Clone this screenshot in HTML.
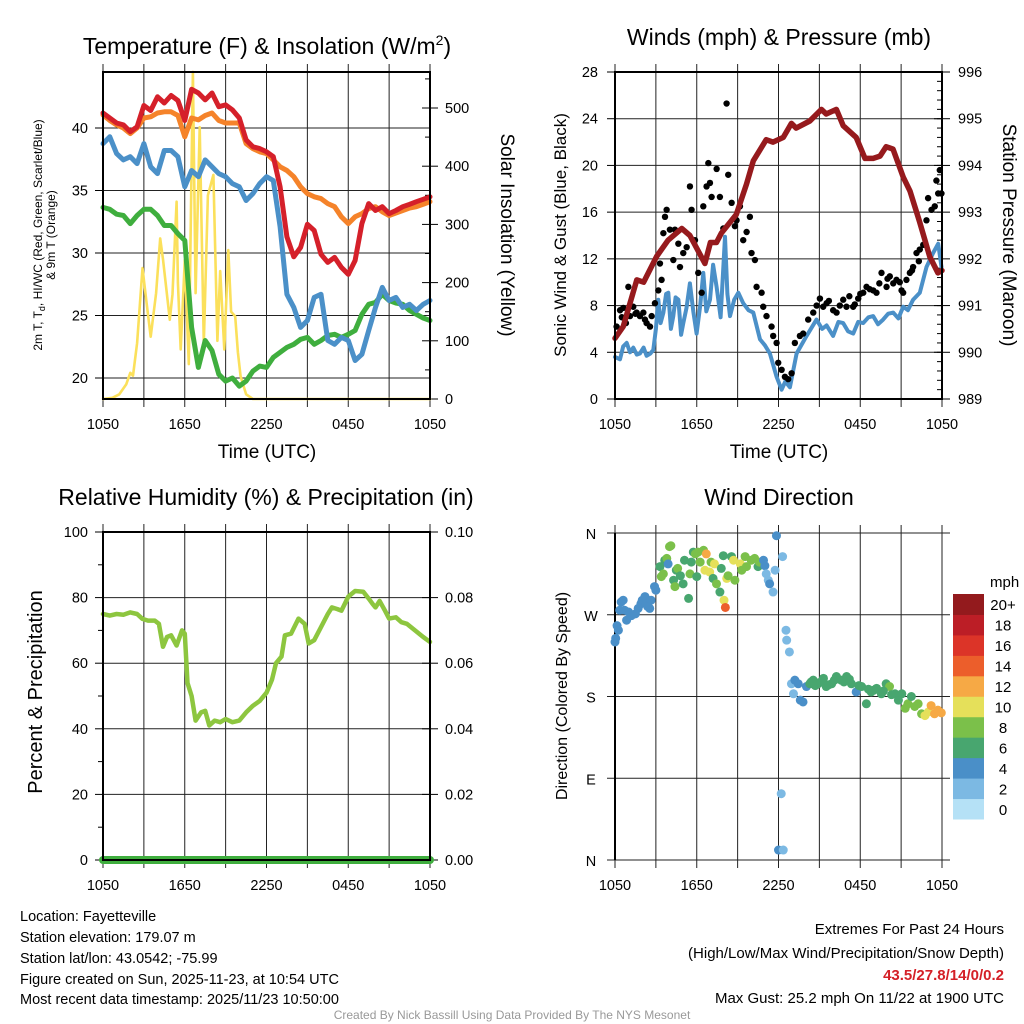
<!DOCTYPE html>
<html><head><meta charset="utf-8"><style>
body{margin:0;background:#fff}
svg{display:block;font-family:"Liberation Sans",Arial,sans-serif}
</style></head><body>
<svg id="s" width="1024" height="1024" viewBox="0 0 1024 1024" xmlns="http://www.w3.org/2000/svg">
<rect width="1024" height="1024" fill="#fff"/>
<g id="g1"></g>
<g id="g2"></g>
<g id="g3"></g>
<g id="g4"></g>
<text x="267" y="54" font-size="23" text-anchor="middle">Temperature (F) &amp; Insolation (W/m<tspan dy="-9" font-size="14">2</tspan><tspan dy="9">)</tspan></text>
<text x="779" y="45" font-size="23" text-anchor="middle">Winds (mph) &amp; Pressure (mb)</text>
<text x="266" y="505" font-size="23" text-anchor="middle">Relative Humidity (%) &amp; Precipitation (in)</text>
<text x="779" y="505" font-size="23" text-anchor="middle">Wind Direction</text>
<text x="267" y="458" font-size="19" text-anchor="middle">Time (UTC)</text>
<text x="779" y="458" font-size="19" text-anchor="middle">Time (UTC)</text>
<text transform="translate(42,235) rotate(-90)" font-size="12" text-anchor="middle">2m T, T<tspan dy="3" font-size="9">d</tspan><tspan dy="-3">, HI/WC (Red, Green, Scarlet/Blue)</tspan></text>
<text transform="translate(55,235) rotate(-90)" font-size="12" text-anchor="middle">&amp; 9m T (Orange)</text>
<text transform="translate(501,235) rotate(90)" font-size="19" text-anchor="middle">Solar Insolation (Yellow)</text>
<text transform="translate(566,235) rotate(-90)" font-size="17" text-anchor="middle">Sonic Wind &amp; Gust (Blue, Black)</text>
<text transform="translate(1003,235) rotate(90)" font-size="19" text-anchor="middle">Station Pressure (Maroon)</text>
<text transform="translate(42,692) rotate(-90)" font-size="20" text-anchor="middle">Percent &amp; Precipitation</text>
<text transform="translate(567,696) rotate(-90)" font-size="16" text-anchor="middle">Direction (Colored By Speed)</text>
<g font-size="14.5">
<text x="20" y="921">Location: Fayetteville</text>
<text x="20" y="942">Station elevation: 179.07 m</text>
<text x="20" y="963">Station lat/lon: 43.0542; -75.99</text>
<text x="20" y="984">Figure created on Sun, 2025-11-23, at 10:54 UTC</text>
<text x="20" y="1004">Most recent data timestamp: 2025/11/23 10:50:00</text>
</g>
<g font-size="15" text-anchor="end">
<text x="1004" y="934">Extremes For Past 24 Hours</text>
<text x="1004" y="958">(High/Low/Max Wind/Precipitation/Snow Depth)</text>
<text x="1004" y="980" fill="#d42027" font-weight="bold">43.5/27.8/14/0/0.2</text>
<text x="1004" y="1003">Max Gust: 25.2 mph On 11/22 at 1900 UTC</text>
</g>
<text x="512" y="1019" font-size="12" fill="#999" text-anchor="middle">Created By Nick Bassill Using Data Provided By The NYS Mesonet</text>
</svg>
<script>
// ---- Data ----
const xTickLabels=["1050","1650","2250","0450","1050"];
const tempTicks=[20,25,30,35,40];
const solarTicks=[0,100,200,300,400,500];
const windTicks=[0,4,8,12,16,20,24,28];
const presTicks=[989,990,991,992,993,994,995,996];
const rhTicks=[0,20,40,60,80,100];
const precipTicks=["0.00","0.02","0.04","0.06","0.08","0.10"];
const dirTicks=["N","W","S","E","N"];
const speedBins=["0","2","4","6","8","10","12","14","16","18","20+"];
const speedColors=["#b5e1f6","#7cb9e3","#4a8fc8","#48a66f","#7bc04a","#e5e05a","#f6a945","#ec5e2b","#dc3428","#bc1e26","#931a1d"];

const tHalf=[0,0.5,1,1.5,2,2.5,3,3.5,4,4.5,5,5.5,6,6.5,7,7.5,8,8.5,9,9.5,10,10.5,11,11.5,12,12.5,13,13.5,14,14.5,15,15.5,16,16.5,17,17.5,18,18.5,19,19.5,20,20.5,21,21.5,22,22.5,23,23.5,24];
const tempRed=[41.2,40.8,40.4,40.25,39.7,40.1,41.8,41.4,42.5,42.0,42.6,42.2,40.6,43.1,42.8,42.25,42.8,41.7,41.85,41.45,40.8,39.05,38.5,38.35,38.1,37.7,35.3,31.3,29.7,30.45,32.3,31.8,29.9,29.25,29.65,28.85,28.3,29.4,32.35,33.95,33.4,33.7,33.15,33.4,33.7,33.9,34.1,34.3,34.5];
const tempOrange=[41.05,40.6,40.25,40.0,39.55,40.0,40.8,40.9,41.2,41.3,41.3,41.0,39.3,40.8,40.65,41.0,41.2,40.6,40.4,40.4,40.4,38.75,38.35,38.1,37.95,37.45,36.9,36.6,36.1,35.3,34.75,34.5,34.35,33.95,33.7,32.9,32.35,32.9,33.15,33.55,33.7,33.3,33.0,33.2,33.4,33.6,33.7,33.9,34.1];
const tempBlue=[38.75,39.3,37.95,37.45,37.7,37.15,38.75,36.9,36.35,38.2,38.2,37.7,35.3,36.6,36.1,37.45,36.9,36.35,36.1,35.55,35.3,34.2,34.75,35.55,36.1,35.8,32.1,26.7,25.65,24.05,24.6,26.45,26.7,23.0,22.7,23.25,23.0,21.4,21.9,23.8,25.65,27.25,26.2,26.45,25.65,25.9,25.4,25.9,26.2];
const tempGreen=[33.65,33.5,33.1,33.0,32.35,33.0,33.5,33.5,33.0,32.2,32.2,31.55,31.0,24.05,20.85,23.0,22.2,20.3,19.75,20.0,19.35,19.75,20.55,20.95,20.85,21.65,22.05,22.45,22.7,23.1,23.25,22.7,23.0,23.4,23.5,23.25,23.5,23.8,25.1,25.9,26.05,26.7,26.2,26.0,25.9,25.4,25.1,24.8,24.6];
const solarT=[0,0.7,1.2,1.7,2.0,2.2,2.5,2.9,3.2,3.5,3.9,4.2,4.4,4.9,5.1,5.4,5.5,5.7,6.0,6.3,6.6,6.8,7.1,7.4,7.7,8.1,8.4,8.6,8.9,9.2,9.4,9.7,9.9,10.1,10.5,11.0,11.5,24];
const solarVal=[0,2,8,25,45,40,96,225,165,107,182,276,240,136,180,339,200,85,239,60,562,182,467,95,350,385,100,220,85,256,150,142,80,39,8,0,0,0];
const presT=[0,0.6,1.6,2.1,3.05,3.9,4.9,5.5,6.6,7.0,7.45,7.8,8.9,9.65,10.15,11.1,11.6,12.35,12.95,13.3,14.3,15.15,15.5,16.25,16.75,17.7,18.35,18.95,19.45,19.9,20.4,21.15,21.65,22.35,23.1,23.7,24];
const presVal=[990.3,990.55,991.55,991.5,992.05,992.4,992.65,992.5,991.9,992.35,992.35,992.55,992.95,993.6,994.1,994.55,994.5,994.6,994.9,994.8,994.95,995.2,995.1,995.2,994.85,994.6,994.15,994.15,994.2,994.4,994.35,993.75,993.45,992.8,992.05,991.7,991.75];
const windT=[0,0.37,0.6,0.86,1.1,1.34,1.6,1.83,2.1,2.32,2.6,2.81,3.0,3.18,3.35,3.55,3.75,3.91,4.1,4.28,4.45,4.65,4.85,5.01,5.25,5.5,5.75,5.99,6.25,6.48,6.7,6.97,7.2,7.46,7.75,8.07,8.25,8.44,8.75,9.05,9.41,9.8,10.15,10.64,11.0,11.37,11.86,12.23,12.5,12.84,13.33,14.06,14.79,15.2,15.53,16.01,16.4,16.75,17.1,17.48,17.85,18.22,18.6,18.95,19.3,19.68,20.05,20.42,20.8,21.15,21.5,21.88,22.37,22.86,23.35,23.72,23.96];
const windVal=[3.6,3.4,4.5,4.8,4.0,4.4,3.8,3.9,4.4,3.7,3.9,4.2,6.0,8.5,6.5,7.4,9.0,9.1,6.0,7.1,8.7,8.5,5.5,6.5,7.8,9.9,7.5,5.6,8.0,10.8,7.5,8.5,11.5,9.6,7.0,13.9,9.0,7.1,8.5,9.1,8.2,7.6,7.4,5.1,4.6,3.9,1.9,0.8,1.5,1.0,3.9,5.4,6.8,6.0,6.3,5.4,6.6,6.5,5.8,5.6,6.6,6.5,7.0,7.1,6.4,6.8,7.3,7.4,6.9,7.9,7.6,8.5,9.1,11.3,12.5,13.3,11.3];
const gustT=[0.12,0.37,0.61,0.98,1.1,1.34,1.59,1.83,2.08,2.32,2.57,2.69,2.93,3.18,3.3,3.42,3.55,3.67,3.79,4.03,4.28,4.4,4.65,4.77,5.01,5.26,5.5,5.62,5.87,6.11,6.36,6.48,6.72,6.85,6.97,7.09,7.46,7.7,7.95,8.19,8.31,8.56,8.8,8.92,9.17,9.41,9.66,9.9,10.02,10.27,10.39,10.76,10.88,11.12,11.49,11.61,11.86,11.98,12.23,12.47,12.71,12.96,13.2,13.57,13.81,14.18,14.55,15.04,15.28,15.53,16.01,16.26,16.75,16.99,17.48,17.85,18.22,18.46,18.95,19.19,19.56,19.93,20.17,20.42,20.66,21.03,21.15,21.39,21.64,21.88,22.13,22.37,22.62,22.86,22.98,23.23,23.47,23.59,23.72,23.84,23.96,0.5,0.8,1.5,2.2,14.8,15.7,16.5,17.2,17.6,18.0,18.7,19.4,20.0,20.9,21.8,22.3];
const gustVal=[6.2,7.6,7.8,9.6,7.1,7.9,7.4,7.1,7.4,6.5,6.2,7.1,8.2,9.3,11.6,10.2,14.2,15.6,16.2,14.5,11.9,14.5,13.3,11.3,12.5,13.0,18.2,16.2,13.6,10.8,9.1,16.5,18.2,20.2,18.5,17.3,19.7,17.3,14.6,25.3,19.2,16.8,14.8,15.3,16.5,13.6,14.3,15.6,12.5,11.9,9.6,9.1,7.9,7.1,6.2,5.4,4.8,3.1,2.5,1.9,1.7,2.2,4.8,5.4,5.6,6.8,7.4,8.6,7.9,8.2,7.6,7.4,8.5,7.9,7.9,8.6,9.1,9.6,9.3,9.1,10.8,9.6,10.5,9.9,10.2,9.3,9.1,10.2,10.8,11.3,12.5,12.8,13.2,15.3,17.2,16.2,16.5,18.7,17.6,19.6,17.6,7.0,6.5,7.3,6.8,8.0,8.4,8.0,8.8,8.1,9.0,9.4,9.9,10.3,10.0,11.0,11.8];
const rhT=[0,0.5,1,1.5,2,2.5,2.9,3.3,3.8,4.1,4.4,4.7,5.0,5.4,5.8,6.0,6.2,6.5,6.8,7.2,7.5,7.8,8.2,8.6,9,9.5,10,10.5,11,11.5,12,12.4,12.7,13.1,13.35,13.8,14.35,14.8,15.1,15.5,16,16.5,16.8,17.2,17.5,18,18.5,19.1,19.5,19.8,20,20.3,20.7,21,21.5,21.9,22.3,22.9,23.5,24];
const rhVal=[75,74.5,75,74.8,75.5,75,73.5,73,73,72,65,68,68.5,65.4,70,69,54,50,42.5,45,45.5,41,42.5,42,43,42,42.5,45,47,48.5,51,55,60,62,68.5,69,73.6,72,66,67,71,75,77,76.5,76,80.3,82,81.8,79.7,78,77,79,76,73.6,74,72.5,72,70,68,66.5];
const precipT=[0,24];
const precipVal=[0,0];
const dirT=[0,0.05,0.15,0.25,0.35,0.45,0.6,0.7,0.85,1.2,1.5,1.7,1.9,2.0,2.2,2.3,2.55,2.65,2.9,3.0,2.4,1.0,3.3,3.4,3.55,3.65,3.8,3.9,4.0,4.1,4.3,4.4,4.5,4.6,4.8,5.0,5.1,5.4,5.5,5.6,5.75,5.9,6.0,6.1,6.25,6.5,6.6,6.7,6.95,7.05,7.2,7.3,7.45,7.7,7.8,7.95,8.0,8.1,8.2,8.3,8.55,8.7,8.8,9.2,9.3,9.55,9.65,10.0,10.25,10.5,10.6,10.9,11.0,11.1,11.25,11.35,11.6,11.75,11.85,12.3,12.55,12.6,12.8,12.2,12.0,12.35,12.95,13.1,13.2,13.45,13.6,13.8,14.05,14.3,14.55,14.9,15.3,15.5,15.9,16.25,16.6,17.0,17.35,17.7,18.1,18.45,18.8,19.2,19.55,19.9,20.15,20.55,20.8,21.05,21.3,21.5,21.75,22.0,22.25,22.5,22.75,23.0,23.2,23.45,23.7,23.95,14.4,14.7,15.1,15.7,16.1,16.8,17.2,17.9,18.6,19.0,19.7,20.3];
const dirVal=[240,244,258,253,275,284,286,275,264,269,271,277,282,286,290,282,277,286,301,297,279,273,323,312,315,330,332,326,345,346,308,301,319,321,313,304,330,288,315,328,339,337,312,339,328,341,319,337,317,328,310,326,304,295,321,335,286,278,310,313,334,330,308,326,319,334,323,330,332,323,328,330,324,315,308,304,295,319,357,334,253,242,229,73,11,11,194,183,198,194,176,174,191,194,198,194,200,191,194,202,198,202,194,185,191,172,185,189,183,194,191,183,176,183,167,172,180,169,172,161,159,163,170,161,165,162,196,192,196,193,198,196,199,192,188,187,186,182];
const dirSpeed=[4,4,4,4,4,3,3,4,4,4,4,4,4,4,4,4,4,4,4,4,4,4,6,8,8,6,8,4,8,8,6,8,6,8,6,6,6,6,8,6,6,8,6,8,8,8,10,12,10,8,6,10,8,6,6,6,10,14,10,8,6,10,8,10,8,8,8,8,8,6,8,4,4,2,2,4,2,2,3,1,1,1,1,1,3,1,1,1,3,4,4,4,4,6,6,6,6,6,6,6,6,6,6,4,6,6,6,6,6,6,8,6,6,6,8,8,6,8,8,8,10,10,12,12,12,12,6,6,6,6,6,6,6,6,6,6,6,6];

// ---- Rendering ----
const NS="http://www.w3.org/2000/svg";
function el(parent,tag,attrs){const e=document.createElementNS(NS,tag);for(const k in attrs)e.setAttribute(k,attrs[k]);parent.appendChild(e);return e;}
function lin(d0,d1,r0,r1){return v=>r0+(v-d0)*(r1-r0)/(d1-d0);}

function frame(g,x0,y0,x1,y1){
  const xs=lin(0,24,x0,x1);
  for(let i=0;i<=8;i++){const x=xs(i*3);
    const l=el(g,'line',{x1:x,y1:y0,x2:x,y2:y1,stroke:'#222','stroke-width':1});
    
    
    el(g,'line',{x1:x,y1:y0-8,x2:x,y2:y0,stroke:'#222','stroke-width':1});
    el(g,'line',{x1:x,y1:y1,x2:x,y2:y1+8,stroke:'#222','stroke-width':1});
  }
  xTickLabels.forEach((s,i)=>{const t=el(g,'text',{x:xs(i*6),y:y1+30,'font-size':14.5,'text-anchor':'middle'});t.textContent=s;
    
    });
  return xs;
}
function box(g,x0,y0,x1,y1){const r=el(g,'rect',{x:x0,y:y0,width:x1-x0,height:y1-y0,fill:'none',stroke:'#000','stroke-width':2});
  
  }
function hgrid(g,x0,x1,ys,vals,labels,lx,anchor){
  vals.forEach((v,i)=>{const y=ys(v);
    el(g,'line',{x1:x0,y1:y,x2:x1,y2:y,stroke:'#222','stroke-width':1});
    el(g,'line',{x1:x0-8,y1:y,x2:x0,y2:y,stroke:'#000','stroke-width':1});
    const t=el(g,'text',{x:lx,y:y+5,'font-size':14.5,'text-anchor':anchor});t.textContent=labels[i];
    
    });
}
function rightTicks(g,x1,ys,vals,labels,lx){
  vals.forEach((v,i)=>{const y=ys(v);
    el(g,'line',{x1:x1-8,y1:y,x2:x1+8,y2:y,stroke:'#000','stroke-width':1});
    const t=el(g,'text',{x:lx,y:y+5,'font-size':14.5,'text-anchor':'start'});t.textContent=labels[i];
    
    });
}
function path(g,xs,ys,T,V,color,w,name){
  const p=el(g,'polyline',{points:T.map((t,i)=>xs(t).toFixed(1)+','+ys(V[i]).toFixed(1)).join(' '),fill:'none',stroke:color,'stroke-width':w,'stroke-linejoin':'round','stroke-linecap':'round'});
  
  
  return p;
}

// Panel 1
(function(){
  const g=document.getElementById('g1');const x0=103,y0=72,x1=430,y1=399;
  const ys=lin(20,40,378,128), ysr=lin(0,500,399,108);
  const xs=frame(g,x0,y0,x1,y1);
  hgrid(g,x0,x1,ys,tempTicks,tempTicks.map(String),88,'end');
  for(let v=50;v<560;v+=50){if(v%100)el(g,'line',{x1:x1-5,y1:ysr(v),x2:x1,y2:ysr(v),stroke:'#000'});}
  rightTicks(g,x1,ysr,solarTicks,solarTicks.map(String),445);
  path(g,xs,ysr,solarT,solarVal,'#fbe05b',2.6,'insolation-line');
  path(g,xs,ys,tHalf,tempGreen,'#3fae3e',5,'dewpoint-line');
  path(g,xs,ys,tHalf,tempBlue,'#4b90c8',5,'windchill-line');
  path(g,xs,ys,tHalf,tempOrange,'#f5832a',5,'temp-9m-line');
  path(g,xs,ys,tHalf,tempRed,'#d5202a',5,'temp-2m-line');
  box(g,x0,y0,x1,y1);
})();
// Panel 2
(function(){
  const g=document.getElementById('g2');const x0=615,y0=72,x1=942,y1=399;
  const ys=lin(0,28,399,72), ysr=lin(989,996,399,72);
  const xs=frame(g,x0,y0,x1,y1);
  hgrid(g,x0,x1,ys,windTicks,windTicks.map(String),598,'end');
  for(let v=989.2;v<996;v+=0.2){el(g,'line',{x1:x1-5,y1:ysr(v),x2:x1,y2:ysr(v),stroke:'#000'});}
  rightTicks(g,x1,ysr,presTicks,presTicks.map(String),958);
  path(g,xs,ys,windT,windVal,'#4b90c8',4,'wind-speed-line');
  gustT.forEach((t,i)=>{const c=el(g,'circle',{cx:xs(t),cy:ys(gustVal[i]),r:3.2,fill:'#000'});
    
    });
  path(g,xs,ysr,presT,presVal,'#961a1d',5.5,'pressure-line');
  box(g,x0,y0,x1,y1);
})();
// Panel 3
(function(){
  const g=document.getElementById('g3');const x0=103,y0=532,x1=430,y1=860;
  const ys=lin(0,100,y1,y0);
  const xs=frame(g,x0,y0,x1,y1);
  hgrid(g,x0,x1,ys,rhTicks,rhTicks.map(String),88,'end');
  for(let v=10;v<100;v+=20){el(g,'line',{x1:x0-5,y1:ys(v),x2:x0,y2:ys(v),stroke:'#000'});}
  rightTicks(g,x1,ys,rhTicks,precipTicks,445);
  path(g,xs,ys,rhT,rhVal,'#8dc63f',4.5,'humidity-line');
  const ysp=lin(0,0.1,y1,y0);
  path(g,xs,ysp,precipT,precipVal,'#3fae3e',8,'precipitation-line');
  box(g,x0,y0,x1,y1);
})();
// Panel 4
(function(){
  const g=document.getElementById('g4');const x0=615,y0=533,x1=942,y1=860;
  const ys=lin(0,360,y1,y0);
  const xs=frame(g,x0,y0,x1,y1);
  dirTicks.forEach((s,i)=>{const y=ys(360-i*90);
    el(g,'line',{x1:x0-8,y1:y,x2:x1+8,y2:y,stroke:'#222','stroke-width':1});
    const t=el(g,'text',{x:591,y:y+6,'font-size':14.5,'text-anchor':'middle'});t.textContent=s;
    
    });
  el(g,'line',{x1:x0,y1:y0,x2:x0,y2:y1,stroke:'#000','stroke-width':2});
  dirT.forEach((t,i)=>{
    const c=el(g,'circle',{cx:xs(t),cy:ys(dirVal[i]),r:4.5,fill:speedColors[Math.min(10,Math.round(dirSpeed[i]/2))]});
    
    });
  const cb=el(g,'g',{});
  
  
  const cbTop=594,cbH=225/11;
  speedBins.forEach((s,i)=>{const j=10-i;
    el(cb,'rect',{x:953,y:cbTop+j*cbH,width:31,height:cbH+0.5,fill:speedColors[i]});
    const t=el(cb,'text',{x:1003,y:cbTop+j*cbH+cbH/2+6,'font-size':15,'text-anchor':'middle'});t.textContent=s;
    
    });
  const m=el(cb,'text',{x:990,y:587,'font-size':15});m.textContent='mph';
  
  
})();
</script>
</body></html>
